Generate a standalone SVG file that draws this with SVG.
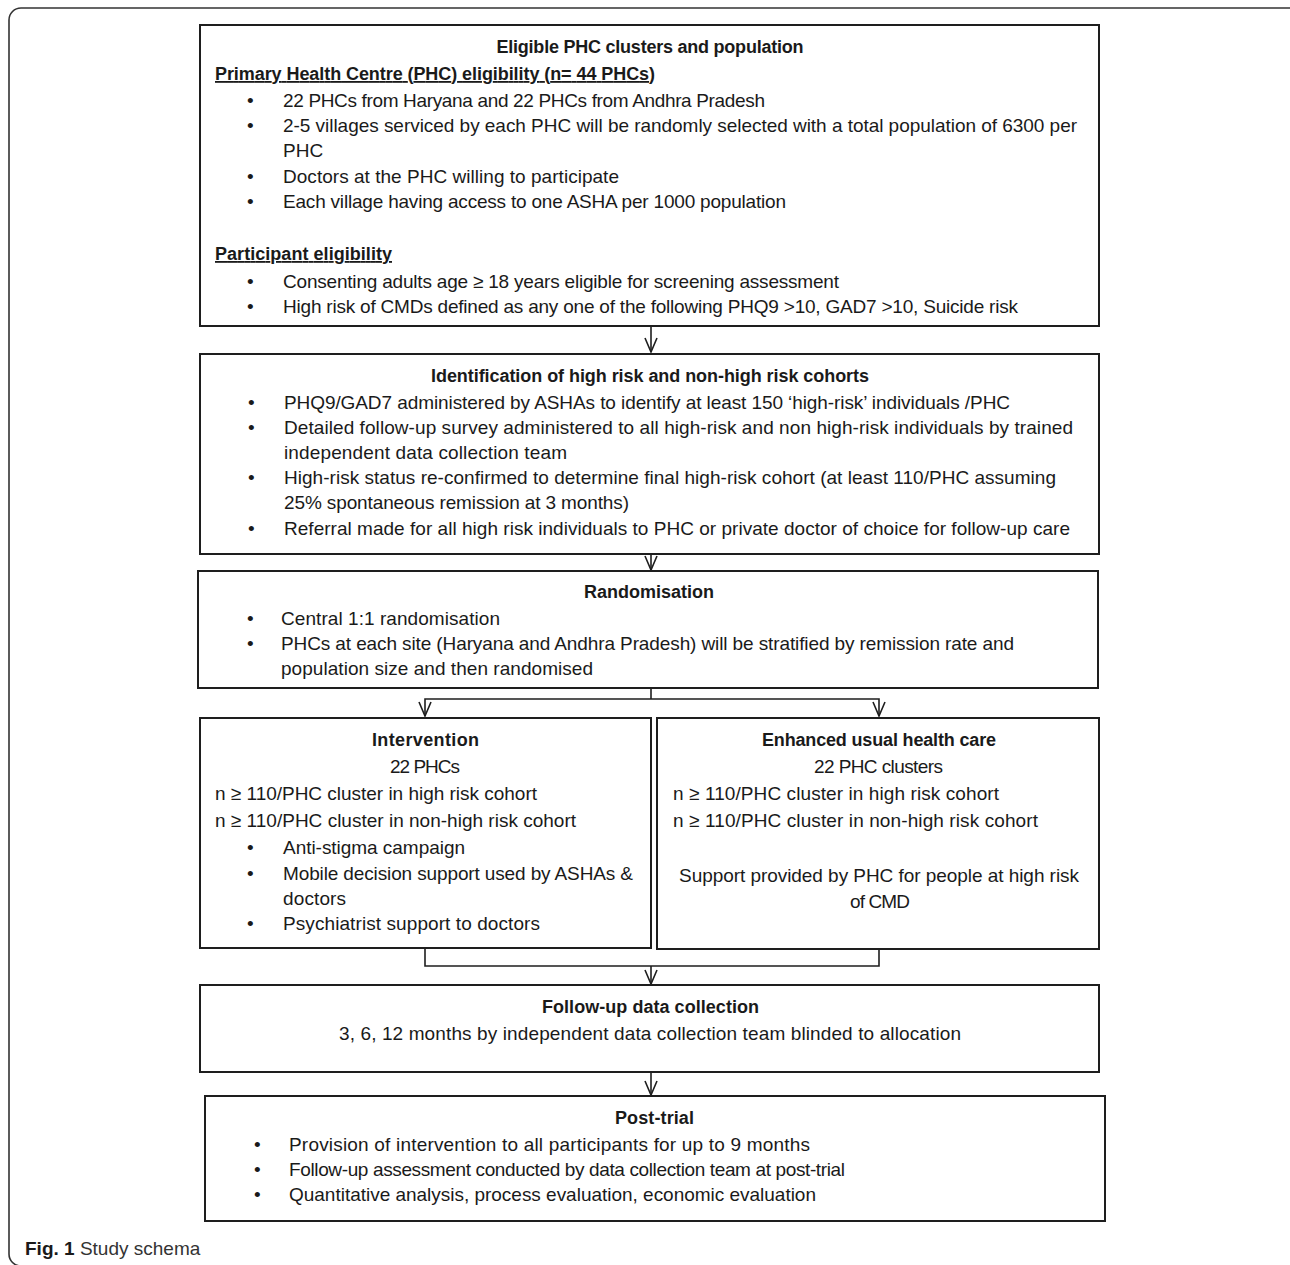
<svg xmlns="http://www.w3.org/2000/svg" width="1290" height="1265" viewBox="0 0 1290 1265">
<style>
text{font-family:"Liberation Sans",Arial,sans-serif;font-size:19px;fill:#1a1a1a}
.b{font-weight:bold;font-size:18px}
.c{text-anchor:middle}
.u{text-decoration:underline}
.box{fill:#fff;stroke:#1e1e1e;stroke-width:2}
.con{fill:none;stroke:#1e1e1e;stroke-width:1.6}
</style>
<defs>
<marker id="arr" viewBox="0 0 16 14" refX="15" refY="7" markerWidth="16" markerHeight="14" markerUnits="userSpaceOnUse" orient="auto-start-reverse">
<path d="M1,1 L15,7 L1,13" fill="none" stroke="#1e1e1e" stroke-width="1.6"/>
</marker>
</defs>
<rect x="9" y="8" width="1300" height="1258" rx="12" fill="none" stroke="#333" stroke-width="1.6"/>

<g id="connectors">
<line class="con" x1="651" y1="327" x2="651" y2="352" marker-end="url(#arr)"/>
<line class="con" x1="651" y1="555" x2="651" y2="570" marker-end="url(#arr)"/>
<polyline class="con" points="651,684 651,699"/>
<polyline class="con" points="425,716 425,699 879,699 879,716" marker-start="url(#arr)" marker-end="url(#arr)"/>
<polyline class="con" points="425,949 425,966 879,966 879,950"/>
<line class="con" x1="651" y1="966" x2="651" y2="984" marker-end="url(#arr)"/>
<line class="con" x1="651" y1="1073" x2="651" y2="1095" marker-end="url(#arr)"/>
</g>

<g id="eligible">
<rect class="box" x="200" y="25" width="899" height="301"/>
<text class="b c" x="650" y="53" textLength="307">Eligible PHC clusters and population</text>
<text class="b u" x="215" y="80" textLength="440">Primary Health Centre (PHC) eligibility (n= 44 PHCs)</text>
<text x="247" y="107">•</text><text x="283" y="107" textLength="482">22 PHCs from Haryana and 22 PHCs from Andhra Pradesh</text>
<text x="247" y="132">•</text><text x="283" y="132" textLength="794">2-5 villages serviced by each PHC will be randomly selected with a total population of 6300 per</text>
<text x="283" y="157">PHC</text>
<text x="247" y="183">•</text><text x="283" y="183" textLength="336">Doctors at the PHC willing to participate</text>
<text x="247" y="208">•</text><text x="283" y="208" textLength="503">Each village having access to one ASHA per 1000 population</text>
<text class="b u" x="215" y="260" textLength="177">Participant eligibility</text>
<text x="247" y="288">•</text><text x="283" y="288" textLength="556">Consenting adults age ≥ 18 years eligible for screening assessment</text>
<text x="247" y="313">•</text><text x="283" y="313" textLength="735">High risk of CMDs defined as any one of the following PHQ9 &gt;10, GAD7 &gt;10, Suicide risk</text>
</g>

<g id="identification">
<rect class="box" x="200" y="354" width="899" height="200"/>
<text class="b c" x="650" y="382" textLength="438">Identification of high risk and non-high risk cohorts</text>
<text x="248" y="409">•</text><text x="284" y="409" textLength="726">PHQ9/GAD7 administered by ASHAs to identify at least 150 ‘high-risk’ individuals /PHC</text>
<text x="248" y="434">•</text><text x="284" y="434" textLength="789">Detailed follow-up survey administered to all high-risk and non high-risk individuals by trained</text>
<text x="284" y="459" textLength="283">independent data collection team</text>
<text x="248" y="484">•</text><text x="284" y="484" textLength="772">High-risk status re-confirmed to determine final high-risk cohort (at least 110/PHC assuming</text>
<text x="284" y="509" textLength="345">25% spontaneous remission at 3 months)</text>
<text x="248" y="535">•</text><text x="284" y="535" textLength="786">Referral made for all high risk individuals to PHC or private doctor of choice for follow-up care</text>
</g>

<g id="randomisation">
<rect class="box" x="198" y="571" width="900" height="117"/>
<text class="b c" x="649" y="598" textLength="130">Randomisation</text>
<text x="247" y="625">•</text><text x="281" y="625" textLength="219">Central 1:1 randomisation</text>
<text x="247" y="650">•</text><text x="281" y="650" textLength="733">PHCs at each site (Haryana and Andhra Pradesh) will be stratified by remission rate and</text>
<text x="281" y="675" textLength="312">population size and then randomised</text>
</g>

<g id="intervention">
<rect class="box" x="200" y="718" width="451" height="230"/>
<text class="b c" x="425.5" y="746" textLength="107">Intervention</text>
<text class="c" x="425" y="773" textLength="70">22 PHCs</text>
<text x="215" y="800" textLength="322">n ≥ 110/PHC cluster in high risk cohort</text>
<text x="215" y="827" textLength="361">n ≥ 110/PHC cluster in non-high risk cohort</text>
<text x="247" y="854">•</text><text x="283" y="854" textLength="182">Anti-stigma campaign</text>
<text x="247" y="880">•</text><text x="283" y="880" textLength="350">Mobile decision support used by ASHAs &amp;</text>
<text x="283" y="905" textLength="63">doctors</text>
<text x="247" y="930">•</text><text x="283" y="930" textLength="257">Psychiatrist support to doctors</text>
</g>

<g id="enhanced">
<rect class="box" x="657" y="718" width="442" height="231"/>
<text class="b c" x="879" y="746" textLength="234">Enhanced usual health care</text>
<text class="c" x="878.5" y="773" textLength="129">22 PHC clusters</text>
<text x="673" y="800" textLength="326">n ≥  110/PHC cluster in high risk cohort</text>
<text x="673" y="827" textLength="365">n ≥  110/PHC cluster in non-high risk cohort</text>
<text class="c" x="879" y="882" textLength="400">Support provided by PHC for people at high risk</text>
<text class="c" x="880" y="908" textLength="60">of CMD</text>
</g>

<g id="followup">
<rect class="box" x="200" y="985" width="899" height="87"/>
<text class="b c" x="650.5" y="1013" textLength="217">Follow-up data collection</text>
<text class="c" x="650" y="1040" textLength="622">3, 6, 12 months by independent data collection team blinded to allocation</text>
</g>

<g id="posttrial">
<rect class="box" x="205" y="1096" width="900" height="125"/>
<text class="b c" x="654.5" y="1124" textLength="79">Post-trial</text>
<text x="254" y="1151">•</text><text x="289" y="1151" textLength="521">Provision of intervention to all participants for up to 9 months</text>
<text x="254" y="1176">•</text><text x="289" y="1176" textLength="556">Follow-up assessment conducted by data collection team at post-trial</text>
<text x="254" y="1201">•</text><text x="289" y="1201" textLength="527">Quantitative analysis, process evaluation, economic evaluation</text>
</g>

<g id="caption">
<text x="25" y="1255"><tspan font-weight="bold">Fig. 1</tspan><tspan fill="#333"> Study schema</tspan></text>
</g>
</svg>
